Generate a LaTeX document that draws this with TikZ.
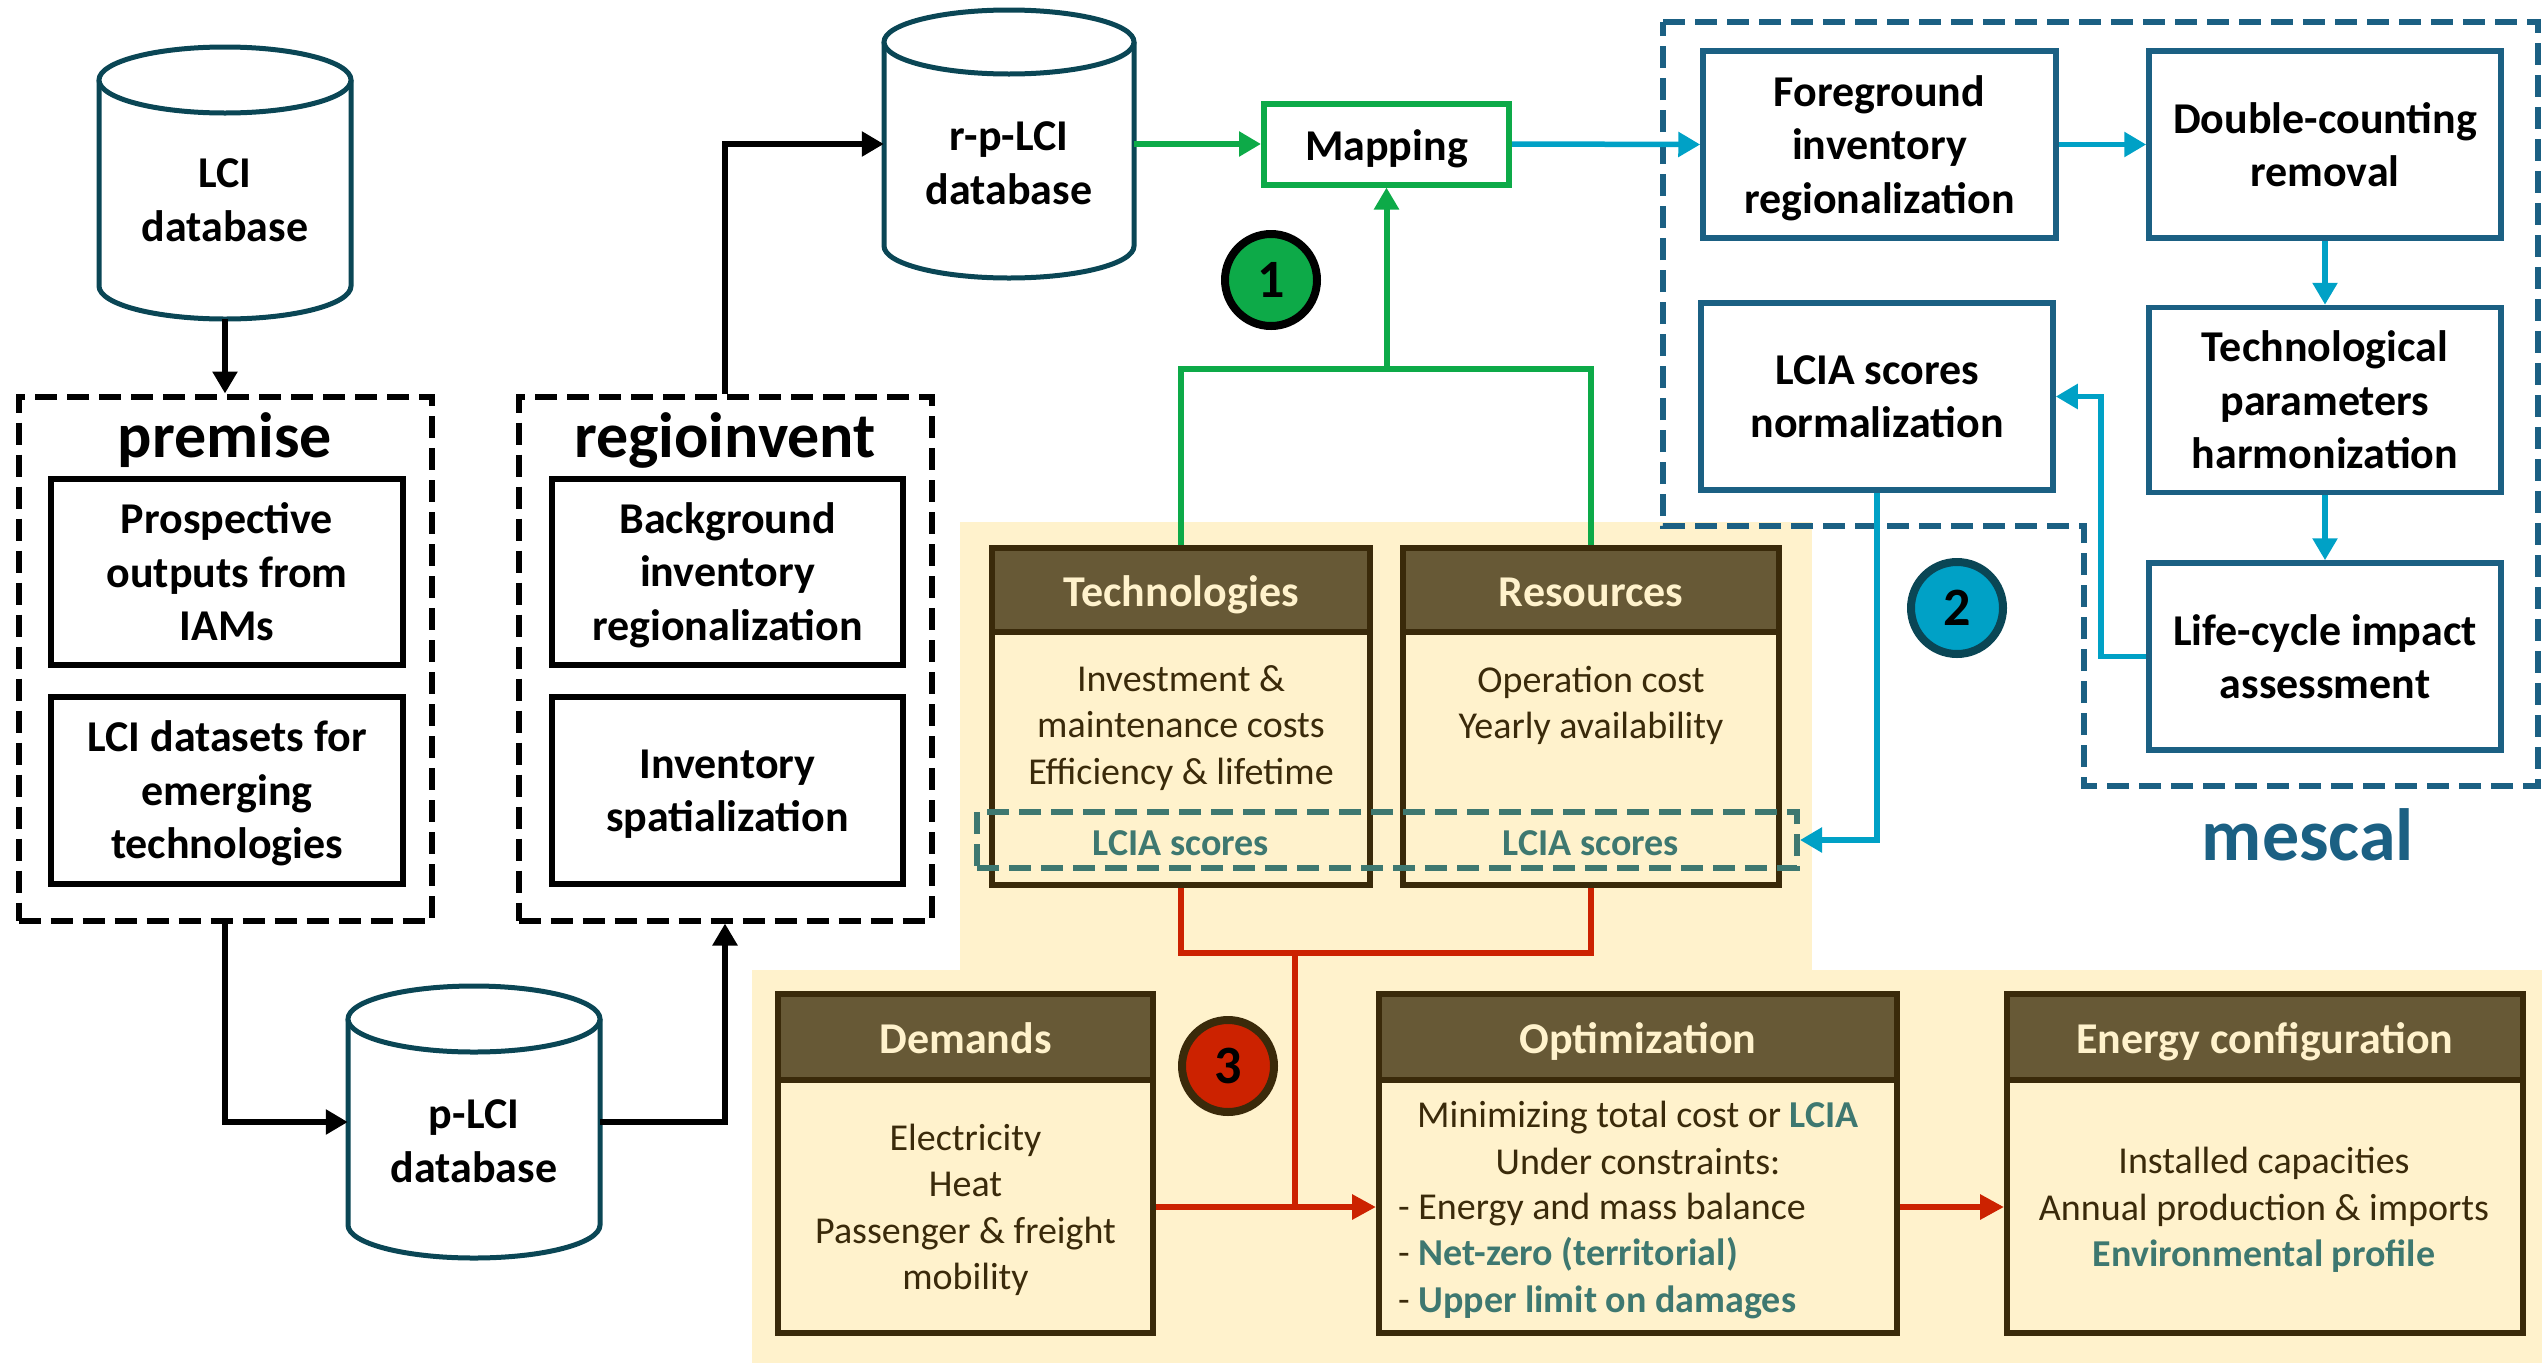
\documentclass[tikz,border=0pt]{standalone}
\usepackage{fontspec}
\setmainfont{Carlito}
\usetikzlibrary{arrows.meta}
\definecolor{cylc}{RGB}{10,70,85}
\definecolor{cyanc}{RGB}{0,161,198}
\definecolor{greenc}{RGB}{13,170,72}
\definecolor{redc}{RGB}{204,34,0}
\definecolor{mescblue}{RGB}{27,96,131}
\definecolor{headfill}{RGB}{103,89,54}
\definecolor{darkbrn}{RGB}{58,42,10}
\definecolor{cream}{RGB}{255,242,204}
\definecolor{tealtx}{RGB}{62,120,112}
\newcommand{\fntbig}{\fontsize{44}{53.5}\selectfont\bfseries}
\newcommand{\fntbody}{\fontsize{38}{46.5}\selectfont}
\newcommand{\fnttitle}{\fontsize{64}{70}\selectfont\bfseries}
\newcommand{\fntmesc}{\fontsize{74}{80}\selectfont\bfseries}
\newcommand{\fntnum}{\fontsize{54}{60}\selectfont\bfseries}
\newcommand{\dbcyl}[5]{%
  \pgfmathsetmacro{\cxl}{#1-#2}\pgfmathsetmacro{\cxr}{#1+#2}%
  \pgfmathsetmacro{\kx}{0.5523*#2}\pgfmathsetmacro{\ky}{0.5523*#5}%
  \filldraw[cylstyle] (\cxl,#3) -- (\cxl,#4) .. controls (\cxl,#4+\ky) and (#1-\kx,#4+#5) .. (#1,#4+#5) .. controls (#1+\kx,#4+#5) and (\cxr,#4+\ky) .. (\cxr,#4) -- (\cxr,#3);
  \filldraw[cylstyle] (#1,#3) ellipse [x radius=#2, y radius=#5];
}
\tikzset{
  cylstyle/.style={draw=cylc, fill=white, line width=5pt},
  plainbox/.style={draw=black, line width=6pt, fill=white, align=center, inner sep=0pt, font=\fntbig, text depth=0pt},
  mescbox/.style={draw=mescblue, line width=5.5pt, fill=white, align=center, inner sep=0pt, font=\fntbig, text depth=0pt},
  blackdash/.style={draw=black, line width=6pt, dash pattern=on 22pt off 10pt, inner sep=0pt},
  headbox/.style={draw=darkbrn, line width=6pt, fill=headfill, text=cream, font=\fntbig, inner sep=0pt, text height=40pt, text depth=8pt},
  bodybox/.style={draw=darkbrn, line width=6pt, fill=cream, inner sep=0pt},
  bodytext/.style={font=\fntbody, text=darkbrn, align=center},
  lciatext/.style={font=\fntbody\bfseries, text=tealtx},
  blackarr/.style={draw=black, line width=6pt, -{Triangle[length=22pt,width=24pt]}},
  cyanarr/.style={draw=cyanc, line width=5.5pt, -{Triangle[length=22pt,width=24pt]}},
  greenln/.style={draw=greenc, line width=6pt},
  redln/.style={draw=redc, line width=6pt},
  numcirc/.style={circle, line width=8pt, minimum size=92pt, inner sep=0pt, font=\fntnum},
}
\begin{document}
\begin{tikzpicture}[x=1pt,y=-1pt]
\useasboundingbox (0,0) rectangle (2542,1363);
% background
\fill[cream] (960,522) rectangle (1812,972);
\fill[cream] (752,970) rectangle (2542,1363);

% cylinders
\dbcyl{225}{126}{80}{286}{33}
\node[inner sep=0pt, minimum width=252pt, minimum height=272pt] (lci) at (225,183) {};
\node[font=\fntbig, align=center] (lcitext) at (225,200) {LCI\\database};

\dbcyl{1009}{125}{42}{246}{32}
\node[inner sep=0pt, minimum width=250pt, minimum height=268pt] (rplci) at (1009,144) {};
\node[font=\fntbig, align=center] (rplcitext) at (1009,163) {r-p-LCI\\database};

\dbcyl{474}{126}{1019}{1225}{33}
\node[inner sep=0pt, minimum width=252pt, minimum height=272pt] (plci) at (474,1122) {};
\node[font=\fntbig, align=center] (plcitext) at (474,1141) {p-LCI\\database};

% premise
\node[blackdash, minimum width=413pt, minimum height=524pt] (premise) at (225,658.5) {};
\node[font=\fnttitle, anchor=base] (premtitle) at (225,457) {premise};
\node[plainbox, minimum width=352pt, minimum height=186pt] (prosp) at (227,572) {Prospective\\outputs from\\IAMs};
\node[plainbox, minimum width=352pt, minimum height=187pt] (lcids) at (227,790) {LCI datasets for\\emerging\\technologies};

% regioinvent
\node[blackdash, minimum width=413pt, minimum height=524pt] (regio) at (725,658.5) {};
\node[font=\fnttitle, anchor=base] (regiotitle) at (725,457) {regioinvent};
\node[plainbox, minimum width=351pt, minimum height=186pt] (bginv) at (727.5,571.5) {Background\\inventory\\regionalization};
\node[plainbox, minimum width=351pt, minimum height=187pt] (spat) at (727.5,790.5) {Inventory\\spatialization};

% black arrows
\draw[blackarr] (lci.south) -- (premise.north);
\draw[blackarr] (premise.south) |- (plci.west);
\draw[blackarr] (plci.east) -| (regio.south);
\draw[blackarr] (regio.north) |- (rplci.west);

% mapping
\node[draw=greenc, line width=6pt, fill=white, minimum width=245pt, minimum height=81pt, inner sep=0pt, font=\fntbig, text height=40pt, text depth=8pt] (mapping) at (1386.5,144) {Mapping};
\draw[draw=greenc, line width=6pt, -{Triangle[length=22pt,width=24pt]}] (rplci.east) -- (mapping.west);

% technologies & resources
\node[bodybox, minimum width=378pt, minimum height=334pt] (tech) at (1181,718) {};
\node[headbox, minimum width=378pt, minimum height=84pt] (techhead) at (1181,590) {Technologies};
\node[bodytext] (techtext) at (1181,728) {Investment \&\\maintenance costs\\Efficiency \& lifetime};
\node[lciatext] (techlcia) at (1181,843) {LCIA scores};

\node[bodybox, minimum width=376pt, minimum height=334pt] (res) at (1591,718) {};
\node[headbox, minimum width=376pt, minimum height=84pt] (reshead) at (1591,590) {Resources};
\node[bodytext] (restext) at (1591,705.5) {Operation cost\\Yearly availability};
\node[lciatext] (reslcia) at (1591,843) {LCIA scores};

\node[draw=tealtx, line width=6pt, dash pattern=on 22pt off 10pt, minimum width=820pt, minimum height=56pt, inner sep=0pt] (lciabox) at (1387,840) {};

% green tree
\coordinate (gjunc) at (1386.5,369);
\draw[greenln] (techhead.north) |- (gjunc) -| (reshead.north);
\draw[greenln, -{Triangle[length=22pt,width=24pt]}] (gjunc) -- (mapping.south);
\node[numcirc, fill=greenc, draw=black] (c1) at (1271,280) {1};

% mescal
\draw[draw=mescblue, line width=6pt, dash pattern=on 22pt off 10pt] (1663,22) -- (2538,22) -- (2538,786) -- (2084,786) -- (2084,526) -- (1663,526) -- cycle;
\node[font=\fntmesc, text=mescblue, anchor=base] (mescal) at (2308,860) {mescal};
\node[mescbox, minimum width=353pt, minimum height=187pt] (fg) at (1879.5,144.5) {Foreground\\inventory\\regionalization};
\node[mescbox, minimum width=352pt, minimum height=187pt] (dc) at (2325,144.5) {Double-counting\\removal};
\node[mescbox, minimum width=352pt, minimum height=187pt] (norm) at (1877,396.5) {LCIA scores\\normalization};
\node[mescbox, minimum width=352pt, minimum height=185pt] (tp) at (2325,400) {Technological\\parameters\\harmonization};
\node[mescbox, minimum width=352pt, minimum height=187pt] (lca) at (2325,656.5) {Life-cycle impact\\assessment};
\coordinate (bendc) at (2101,0);
\draw[cyanarr] (mapping.east) -- (fg.west);
\draw[cyanarr] (fg.east) -- (dc.west);
\draw[cyanarr] (dc.south) -- (tp.north);
\draw[cyanarr] (tp.south) -- (lca.north);
\draw[cyanarr] (lca.west) -- (lca.west -| bendc) |- (norm.east);
\draw[cyanarr] (norm.south) |- (lciabox.east);
\node[numcirc, fill=cyanc, draw=cylc] (c2) at (1957,608) {2};

% bottom row
\node[bodybox, minimum width=375pt, minimum height=336pt] (dem) at (965.5,1165) {};
\node[headbox, minimum width=375pt, minimum height=86pt] (demhead) at (965.5,1037) {Demands};
\node[bodytext] (demtext) at (965.5,1210) {Electricity\\Heat\\Passenger \& freight\\mobility};

\node[bodybox, minimum width=518pt, minimum height=336pt] (opt) at (1638,1165) {};
\node[headbox, minimum width=518pt, minimum height=86pt] (opthead) at (1638,1037) {Optimization};
\node[bodytext] (opttext1) at (1638,1138) {Minimizing total cost or {\bfseries\color{tealtx}LCIA}\\Under constraints:};
\node[bodytext, align=left, anchor=west, inner sep=0pt] (opttext2) at (1398,1256) {- Energy and mass balance\\- {\bfseries\color{tealtx}Net-zero (territorial)}\\- {\bfseries\color{tealtx}Upper limit on damages}};

\node[bodybox, minimum width=516pt, minimum height=336pt] (energy) at (2265,1165) {};
\node[headbox, minimum width=516pt, minimum height=86pt] (energyhead) at (2265,1037) {Energy configuration};
\node[bodytext] (energytext) at (2264,1210) {Installed capacities\\Annual production \& imports\\{\bfseries\color{tealtx}Environmental profile}};

% red tree
\coordinate (redjunc) at (1295,953);
\coordinate (rowarrow) at (0,1207);
\draw[redln] (tech.south) |- (redjunc) -| (res.south);
\draw[redln] (redjunc) -- (redjunc |- rowarrow);
\draw[redln, -{Triangle[length=24pt,width=24pt]}] (dem.east |- rowarrow) -- (opt.west |- rowarrow);
\draw[redln, -{Triangle[length=24pt,width=24pt]}] (opt.east |- rowarrow) -- (energy.west |- rowarrow);
\node[numcirc, fill=redc, draw=darkbrn] (c3) at (1228,1066) {3};
\end{tikzpicture}
\end{document}
